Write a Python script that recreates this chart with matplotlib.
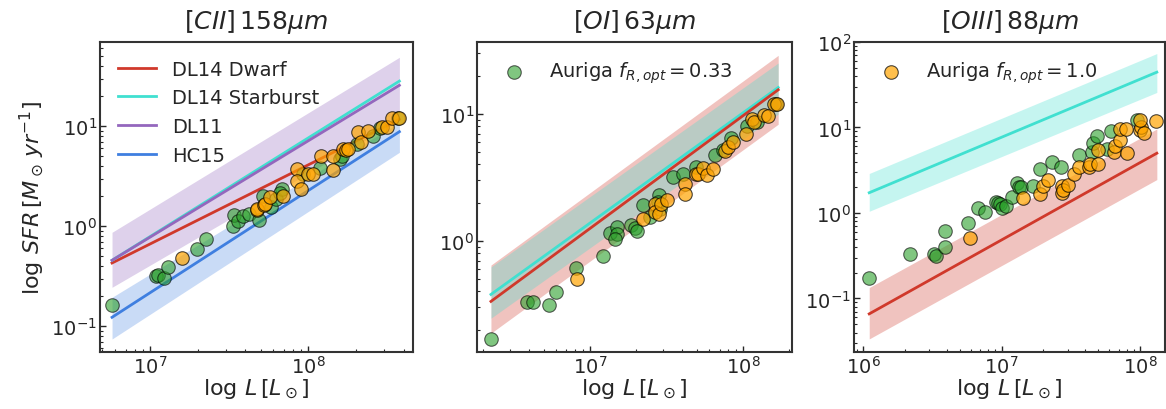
import numpy as np
import matplotlib
matplotlib.use("Agg")
import matplotlib.pyplot as plt

# ---------------- data (log10 values) ----------------
# Panel 1: [CII] 158um
cii_green_logL = [6.762, 7.036, 7.05, 7.087, 7.116, 7.295, 7.356, 7.526, 7.533, 7.558, 7.59, 7.626,
                  7.689, 7.712, 7.762, 7.796, 7.832, 7.82, 7.969, 8.074, 8.2, 8.211, 8.306, 8.411,
                  8.453, 8.569]
cii_green_logSFR = [-0.787, -0.494, -0.49, -0.52, -0.41, -0.227, -0.127, 0.006, 0.113, 0.056, 0.1, 0.123,
                    0.066, 0.30, 0.19, 0.273, 0.373, 0.33, 0.523, 0.583, 0.673, 0.706, 0.823, 0.906,
                    0.98, 1.08]
cii_orange_logL = [7.204, 7.674, 7.678, 7.722, 7.727, 7.758, 7.842, 7.927, 7.927, 7.954, 8.0, 8.028,
                   8.078, 8.154, 8.154, 8.221, 8.24, 8.25, 8.312, 8.331, 8.375, 8.464, 8.495, 8.527, 8.575]
cii_orange_logSFR = [-0.314, 0.166, 0.173, 0.213, 0.223, 0.29, 0.306, 0.573, 0.456, 0.373, 0.523, 0.523,
                     0.706, 0.706, 0.566, 0.773, 0.76, 0.773, 0.94, 0.846, 0.956, 0.99, 0.99, 1.08, 1.08]

# Panel 2: [OI] 63um
oi_green_logL = [6.352, 6.591, 6.628, 6.733, 6.78, 6.907, 7.087, 7.132, 7.178, 7.178, 7.161, 7.265,
                 7.291, 7.309, 7.348, 7.391, 7.452, 7.445, 7.46, 7.543, 7.609, 7.691, 7.815, 7.87,
                 7.918, 8.022, 8.087, 8.211]
oi_green_logSFR = [-0.771, -0.481, -0.481, -0.508, -0.403, -0.213, -0.118, 0.06, 0.113, 0.058, 0.013, 0.123,
                   0.103, 0.076, 0.281, 0.189, 0.365, 0.308, 0.25, 0.505, 0.523, 0.584, 0.676, 0.715,
                   0.813, 0.908, 0.939, 1.076]
oi_orange_logL = [6.915, 7.348, 7.424, 7.424, 7.452, 7.461, 7.5, 7.62, 7.62, 7.691, 7.706, 7.739,
                  7.761, 7.8, 7.881, 7.902, 7.935, 8.018, 8.055, 8.07, 8.135, 8.163, 8.2, 8.222]
oi_orange_logSFR = [-0.303, 0.171, 0.294, 0.229, 0.215, 0.294, 0.32, 0.444, 0.373, 0.523, 0.523, 0.571,
                    0.518, 0.565, 0.707, 0.742, 0.776, 0.839, 0.96, 0.934, 0.987, 0.979, 1.076, 1.076]

# Panel 3: [OIII] 88um
oiii_green_logL = [6.041, 6.338, 6.513, 6.526, 6.591, 6.591, 6.759, 6.832, 6.88, 6.957, 6.97, 6.99,
                   7.0, 7.03, 7.073, 7.113, 7.128, 7.14, 7.229, 7.278, 7.362, 7.427, 7.562, 7.651,
                   7.659, 7.692, 7.76, 7.789, 7.977]
oiii_green_logSFR = [-0.762, -0.477, -0.477, -0.505, -0.209, -0.395, -0.118, 0.059, 0.017, 0.127, 0.12, 0.10,
                     0.059, 0.076, 0.186, 0.352, 0.304, 0.30, 0.313, 0.51, 0.592, 0.533, 0.68, 0.719,
                     0.818, 0.905, 0.746, 0.956, 1.086]
oiii_orange_logL = [6.772, 7.157, 7.278, 7.301, 7.338, 7.434, 7.434, 7.44, 7.482, 7.523, 7.562, 7.634,
                    7.639, 7.699, 7.699, 7.808, 7.82, 7.856, 7.909, 7.856, 7.9, 7.996, 8.01, 8.03,
                    7.996, 8.117]
oiii_orange_logSFR = [-0.296, 0.178, 0.218, 0.313, 0.384, 0.313, 0.233, 0.27, 0.325, 0.455, 0.533, 0.533,
                      0.573, 0.573, 0.739, 0.719, 0.778, 0.85, 0.707, 0.983, 0.983, 0.968, 1.0, 0.936,
                      1.086, 1.075]

# Model relations: log L end points, log SFR (line, lower, upper) at those ends
cii_logL_ends = [6.76, 8.575]
cii_dwarf = [-0.367, 1.07]
cii_starburst = [-0.34, 1.452]
cii_dl11 = [-0.34, 1.41]
cii_dl11_lo = [-0.61, 1.06]
cii_dl11_hi = [-0.06, 1.69]
cii_hc15 = [-0.91, 0.946]
cii_hc15_lo = [-1.127, 0.74]
cii_hc15_hi = [-0.71, 1.04]

oi_logL_ends = [6.354, 8.228]
oi_dwarf = [-0.476, 1.189]
oi_dwarf_lo = [-0.726, 0.918]
oi_dwarf_hi = [-0.19, 1.46]
oi_starburst = [-0.421, 1.207]
oi_starburst_lo = [-0.608, 0.997]
oi_starburst_hi = [-0.205, 1.40]

oiii_logL_ends = [6.043, 8.121]
oiii_dwarf = [-1.18, 0.699]
oiii_dwarf_lo = [-1.473, 0.391]
oiii_dwarf_hi = [-0.872, 0.983]
oiii_starburst = [0.237, 1.647]
oiii_starburst_lo = [0.02, 1.41]
oiii_starburst_hi = [0.462, 1.865]

titles = [r'$[CII]\,158\mu m$', r'$[OI]\,63\mu m$', r'$[OIII]\,88\mu m$']
xlims_log = [(6.684, 8.661), (6.263, 8.318), (5.933, 8.18)]
ylims_log = [(-1.257, 1.843), (-0.874, 1.565), (-1.626, 2.0)]

# ---------------- style ----------------
RED = '#d0392b'
CYAN = '#40e0d0'
PURPLE = '#9467bd'
BLUE = '#3f7fe0'
GREEN = '#2ca02c'
ORANGE = '#ffa500'
TEXT = '#262626'

plt.rcParams.update({
    'font.family': ['DejaVu Sans'],
    'mathtext.fontset': 'dejavusans',
    'text.color': TEXT,
    'axes.labelcolor': TEXT,
    'xtick.color': TEXT,
    'ytick.color': TEXT,
    'axes.edgecolor': '#333333',
    'axes.linewidth': 1.5,
    'xtick.direction': 'in',
    'ytick.direction': 'in',
})

fig = plt.figure(figsize=(11.66, 4.10), dpi=100)
W, H = 1166.0, 410.0
boxes = [(100, 313), (477, 315), (854, 311)]
axes = []
for (l, w) in boxes:
    ax = fig.add_axes([l / W, (410 - 353) / H, w / W, 310 / H])
    axes.append(ax)


def p10(a):
    return 10 ** np.asarray(a, dtype=float)


def band(ax, xe, lo, hi, color, alpha=0.3):
    ax.fill_between(p10(xe), p10(lo), p10(hi), color=color, alpha=alpha, lw=0)


def pts(ax, lx, ly, color, alpha, label=None):
    ax.scatter(p10(lx), p10(ly), s=95, facecolor=color, edgecolor='k', linewidth=0.8,
               alpha=alpha, zorder=5, label=label)


# Panel 1
ax = axes[0]
band(ax, cii_logL_ends, cii_dl11_lo, cii_dl11_hi, PURPLE, 0.3)
band(ax, cii_logL_ends, cii_hc15_lo, cii_hc15_hi, BLUE, 0.28)
ax.plot(p10(cii_logL_ends), p10(cii_dwarf), color=RED, lw=2, label='DL14 Dwarf', zorder=3)
ax.plot(p10(cii_logL_ends), p10(cii_starburst), color=CYAN, lw=2, label='DL14 Starburst', zorder=3)
ax.plot(p10(cii_logL_ends), p10(cii_dl11), color=PURPLE, lw=2, label='DL11', zorder=3)
ax.plot(p10(cii_logL_ends), p10(cii_hc15), color=BLUE, lw=2, label='HC15', zorder=3)
pts(ax, cii_green_logL, cii_green_logSFR, GREEN, 0.6)
pts(ax, cii_orange_logL, cii_orange_logSFR, ORANGE, 0.7)
ax.legend(loc='upper left', frameon=False, fontsize=14, handlelength=2.0)
ax.set_ylabel(r'$\log\,SFR\,[M_\odot\,yr^{-1}]$', fontsize=16, labelpad=4)

# Panel 2
ax = axes[1]
band(ax, oi_logL_ends, oi_dwarf_lo, oi_dwarf_hi, RED, 0.3)
band(ax, oi_logL_ends, oi_starburst_lo, oi_starburst_hi, CYAN, 0.3)
ax.plot(p10(oi_logL_ends), p10(oi_starburst), color=CYAN, lw=2, zorder=3)
ax.plot(p10(oi_logL_ends), p10(oi_dwarf), color=RED, lw=2, zorder=3)
pts(ax, oi_green_logL, oi_green_logSFR, GREEN, 0.6, label=r'Auriga $f_{R,opt} = 0.33$')
pts(ax, oi_orange_logL, oi_orange_logSFR, ORANGE, 0.7)
ax.legend(loc='upper left', frameon=False, fontsize=14, scatterpoints=1)

# Panel 3
ax = axes[2]
band(ax, oiii_logL_ends, oiii_dwarf_lo, oiii_dwarf_hi, RED, 0.3)
band(ax, oiii_logL_ends, oiii_starburst_lo, oiii_starburst_hi, CYAN, 0.3)
ax.plot(p10(oiii_logL_ends), p10(oiii_starburst), color=CYAN, lw=2, zorder=3)
ax.plot(p10(oiii_logL_ends), p10(oiii_dwarf), color=RED, lw=2, zorder=3)
pts(ax, oiii_green_logL, oiii_green_logSFR, GREEN, 0.6)
pts(ax, oiii_orange_logL, oiii_orange_logSFR, ORANGE, 0.7, label=r'Auriga $f_{R,opt} = 1.0$')
ax.legend(loc='upper left', frameon=False, fontsize=14, scatterpoints=1)

for ax, t, xl, yl in zip(axes, titles, xlims_log, ylims_log):
    ax.set_xscale('log')
    ax.set_yscale('log')
    ax.set_xlim(p10(xl))
    ax.set_ylim(p10(yl))
    ax.set_title(t, fontsize=18, pad=10)
    ax.set_xlabel(r'$\log\,L\,[L_\odot]$', fontsize=16, labelpad=0)
    ax.tick_params(which='major', labelsize=14, length=4, width=1, pad=2)
    ax.tick_params(which='minor', length=2.5, width=0.8)

fig.savefig('out.png', dpi=100)
